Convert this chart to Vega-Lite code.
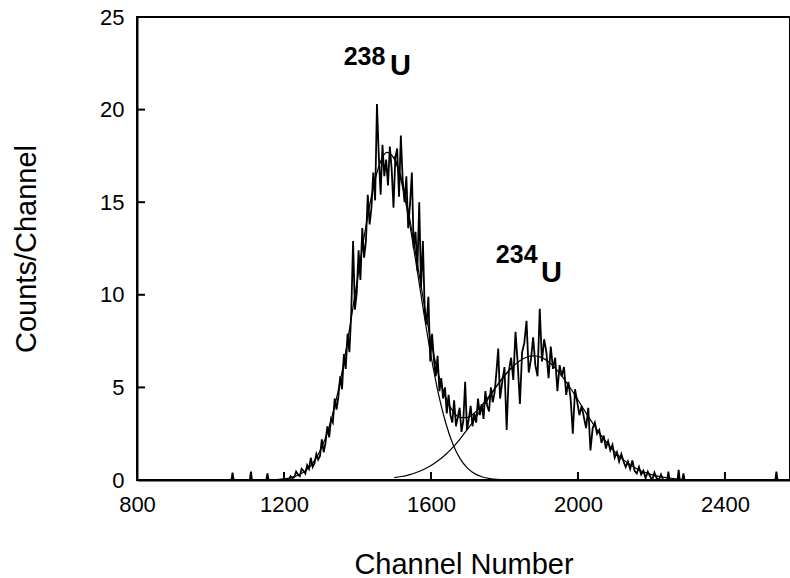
{
  "$schema": "https://vega.github.io/schema/vega-lite/v6.json",
  "width": 653,
  "height": 463,
  "autosize": {"type": "none"},
  "padding": {"left": 137, "top": 17, "right": 0, "bottom": 98},
  "background": "white",
  "config": {
    "font": "Liberation Sans",
    "view": {"stroke": "black", "strokeWidth": 2},
    "axis": {
      "grid": false,
      "domainColor": "black",
      "domainWidth": 2,
      "ticks": false,
      "labelFont": "Liberation Sans",
      "labelFontSize": 22,
      "labelColor": "black",
      "labelFlush": false,
      "titleFont": "Liberation Sans",
      "titleFontSize": 29,
      "titleFontWeight": "normal",
      "titleColor": "black"
    }
  },
  "datasets": {
    "spectrum": [
      {"c":1000,"v":0},{"c":1057,"v":0},{"c":1060,"v":0.4},{"c":1063,"v":0},{"c":1107,"v":0},{"c":1110,"v":0.45},{"c":1113,"v":0},{"c":1152,"v":0},{"c":1155,"v":0.35},{"c":1158,"v":0},{"c":1208,"v":0},
      {"c":1213,"v":0},{"c":1218,"v":0.2},{"c":1223,"v":0.1},{"c":1228,"v":0.15},{"c":1233,"v":0.45},{"c":1238,"v":0.3},{"c":1243,"v":0.2},{"c":1248,"v":0.6},{"c":1253,"v":0.5},{"c":1258,"v":0.35},{"c":1263,"v":0.8},{"c":1268,"v":0.6},{"c":1273,"v":1.2},{"c":1278,"v":0.7},{"c":1283,"v":0.9},{"c":1288,"v":1.4},{"c":1293,"v":1.1},{"c":1298,"v":1.3},{"c":1303,"v":2.2},{"c":1308,"v":1.5},{"c":1313,"v":2.0},{"c":1318,"v":2.9},{"c":1323,"v":2.3},{"c":1328,"v":3.3},{"c":1333,"v":3.1},{"c":1338,"v":4.4},{"c":1343,"v":3.8},{"c":1348,"v":4.5},{"c":1353,"v":5.6},{"c":1358,"v":4.9},{"c":1363,"v":6.8},{"c":1368,"v":6.0},{"c":1373,"v":7.9},{"c":1378,"v":6.9},{"c":1383,"v":9.0},{"c":1388,"v":12.9},{"c":1393,"v":9.2},{"c":1398,"v":10.1},{"c":1403,"v":12.4},{"c":1408,"v":10.8},{"c":1413,"v":13.6},{"c":1418,"v":12.0},{"c":1423,"v":12.9},{"c":1428,"v":15.4},{"c":1433,"v":13.8},{"c":1438,"v":14.7},{"c":1443,"v":16.6},{"c":1448,"v":15.1},{"c":1453,"v":20.3},{"c":1458,"v":17.5},{"c":1463,"v":15.4},{"c":1468,"v":18.1},{"c":1473,"v":16.4},{"c":1478,"v":17.3},{"c":1483,"v":15.9},{"c":1488,"v":18.0},{"c":1493,"v":16.8},{"c":1498,"v":14.7},{"c":1503,"v":17.4},{"c":1508,"v":17.9},{"c":1513,"v":15.3},{"c":1518,"v":18.6},{"c":1523,"v":16.2},{"c":1528,"v":15.0},{"c":1533,"v":16.4},{"c":1538,"v":13.6},{"c":1543,"v":14.9},{"c":1548,"v":16.6},{"c":1553,"v":12.5},{"c":1558,"v":13.4},{"c":1563,"v":11.3},{"c":1568,"v":15.0},{"c":1573,"v":10.4},{"c":1578,"v":12.9},{"c":1583,"v":9.1},{"c":1588,"v":8.4},{"c":1593,"v":9.9},{"c":1598,"v":6.4},{"c":1603,"v":7.9},{"c":1608,"v":6.5},{"c":1613,"v":5.6},{"c":1618,"v":6.7},{"c":1623,"v":4.8},{"c":1628,"v":5.5},{"c":1633,"v":4.4},{"c":1638,"v":5.0},{"c":1643,"v":3.6},{"c":1648,"v":4.6},{"c":1653,"v":3.5},{"c":1658,"v":3.1},{"c":1663,"v":4.3},{"c":1668,"v":2.9},{"c":1673,"v":3.4},{"c":1678,"v":3.9},{"c":1683,"v":2.6},{"c":1688,"v":3.2},{"c":1693,"v":5.3},{"c":1698,"v":2.7},{"c":1703,"v":3.3},{"c":1708,"v":4.0},{"c":1713,"v":2.9},{"c":1718,"v":3.6},{"c":1723,"v":3.1},{"c":1728,"v":4.4},{"c":1733,"v":3.5},{"c":1738,"v":4.1},{"c":1743,"v":3.3},{"c":1748,"v":4.8},{"c":1753,"v":4.0},{"c":1758,"v":3.7},{"c":1763,"v":5.0},{"c":1768,"v":4.2},{"c":1773,"v":4.7},{"c":1778,"v":5.8},{"c":1783,"v":7.1},{"c":1788,"v":4.4},
      {"c":1794,"v":5.3},{"c":1800,"v":6.1},{"c":1806,"v":2.7},{"c":1812,"v":5.9},{"c":1818,"v":6.6},{"c":1824,"v":5.4},{"c":1830,"v":8.0},{"c":1836,"v":6.3},{"c":1842,"v":4.1},{"c":1848,"v":6.9},{"c":1854,"v":7.4},{"c":1860,"v":8.6},{"c":1866,"v":5.8},{"c":1872,"v":6.5},{"c":1878,"v":7.7},{"c":1884,"v":6.2},{"c":1890,"v":5.6},{"c":1896,"v":9.25},{"c":1902,"v":6.4},{"c":1908,"v":7.6},{"c":1914,"v":6.9},{"c":1920,"v":5.5},{"c":1926,"v":7.2},{"c":1932,"v":6.0},{"c":1938,"v":6.6},{"c":1944,"v":4.8},{"c":1950,"v":6.2},{"c":1956,"v":5.6},{"c":1962,"v":6.1},{"c":1968,"v":4.6},{"c":1974,"v":5.3},{"c":1980,"v":4.4},{"c":1986,"v":2.5},{"c":1992,"v":4.9},{"c":1998,"v":4.2},{"c":2004,"v":3.5},{"c":2010,"v":4.0},{"c":2016,"v":3.4},{"c":2022,"v":2.8},{"c":2028,"v":3.9},{"c":2034,"v":1.6},{"c":2040,"v":2.8},{"c":2046,"v":3.1},{"c":2052,"v":2.5},{"c":2058,"v":2.7},{"c":2064,"v":2.0},{"c":2070,"v":2.4},{"c":2076,"v":1.7},{"c":2082,"v":2.1},{"c":2088,"v":1.6},{"c":2094,"v":1.9},{"c":2100,"v":1.2},{"c":2106,"v":1.5},{"c":2112,"v":1.0},{"c":2118,"v":1.4},{"c":2124,"v":1.0},{"c":2130,"v":0.7},{"c":2136,"v":1.0},{"c":2142,"v":0.6},{"c":2148,"v":1.05},{"c":2154,"v":0.5},{"c":2160,"v":0.35},{"c":2166,"v":0.7},{"c":2172,"v":0.3},{"c":2178,"v":0.5},{"c":2184,"v":0.1},{"c":2190,"v":0.45},{"c":2196,"v":0.2},{"c":2202,"v":0.0},{"c":2208,"v":0.4},{"c":2214,"v":0.1},{"c":2220,"v":0.0},{"c":2226,"v":0.3},{"c":2232,"v":0},
      {"c":2243,"v":0},{"c":2246,"v":0.45},{"c":2249,"v":0},{"c":2271,"v":0},{"c":2274,"v":0.55},{"c":2277,"v":0},{"c":2284,"v":0},{"c":2287,"v":0.35},{"c":2290,"v":0},{"c":2537,"v":0},{"c":2540,"v":0.45},{"c":2543,"v":0},{"c":2577,"v":0}
    ],
    "fits": [
      {"s":"238","c":1160,"v":0.011},{"s":"238","c":1180,"v":0.026},{"s":"238","c":1200,"v":0.061},{"s":"238","c":1220,"v":0.132},{"s":"238","c":1240,"v":0.27},{"s":"238","c":1260,"v":0.522},{"s":"238","c":1280,"v":0.954},{"s":"238","c":1300,"v":1.65},{"s":"238","c":1320,"v":2.69},{"s":"238","c":1340,"v":4.16},{"s":"238","c":1360,"v":6.06},{"s":"238","c":1380,"v":8.35},{"s":"238","c":1400,"v":10.86},{"s":"238","c":1420,"v":13.36},{"s":"238","c":1440,"v":15.52},{"s":"238","c":1460,"v":17.05},{"s":"238","c":1480,"v":17.69},{"s":"238","c":1500,"v":17.34},{"s":"238","c":1520,"v":16.06},{"s":"238","c":1540,"v":14.06},{"s":"238","c":1560,"v":11.63},{"s":"238","c":1580,"v":9.09},{"s":"238","c":1600,"v":6.71},{"s":"238","c":1620,"v":4.68},{"s":"238","c":1640,"v":3.09},{"s":"238","c":1660,"v":1.92},{"s":"238","c":1680,"v":1.13},{"s":"238","c":1700,"v":0.629},{"s":"238","c":1720,"v":0.331},{"s":"238","c":1740,"v":0.164},{"s":"238","c":1760,"v":0.077},{"s":"238","c":1780,"v":0.034},{"s":"238","c":1800,"v":0.014},
      {"s":"234","c":1500,"v":0.128},{"s":"234","c":1520,"v":0.19},{"s":"234","c":1540,"v":0.281},{"s":"234","c":1560,"v":0.404},{"s":"234","c":1580,"v":0.568},{"s":"234","c":1600,"v":0.78},{"s":"234","c":1620,"v":1.05},{"s":"234","c":1640,"v":1.38},{"s":"234","c":1660,"v":1.776},{"s":"234","c":1680,"v":2.24},{"s":"234","c":1700,"v":2.755},{"s":"234","c":1720,"v":3.32},{"s":"234","c":1740,"v":3.91},{"s":"234","c":1760,"v":4.51},{"s":"234","c":1780,"v":5.09},{"s":"234","c":1800,"v":5.62},{"s":"234","c":1820,"v":6.07},{"s":"234","c":1840,"v":6.41},{"s":"234","c":1860,"v":6.63},{"s":"234","c":1880,"v":6.7},{"s":"234","c":1900,"v":6.62},{"s":"234","c":1920,"v":6.38},{"s":"234","c":1940,"v":6.0},{"s":"234","c":1960,"v":5.51},{"s":"234","c":1980,"v":4.94},{"s":"234","c":2000,"v":4.32},{"s":"234","c":2020,"v":3.68},{"s":"234","c":2040,"v":3.07},{"s":"234","c":2060,"v":2.49},{"s":"234","c":2080,"v":1.98},{"s":"234","c":2100,"v":1.53},{"s":"234","c":2120,"v":1.155},{"s":"234","c":2140,"v":0.851},{"s":"234","c":2160,"v":0.612},{"s":"234","c":2180,"v":0.43},{"s":"234","c":2200,"v":0.294},{"s":"234","c":2220,"v":0.197},{"s":"234","c":2240,"v":0.128},{"s":"234","c":2260,"v":0.082},{"s":"234","c":2280,"v":0.05},
      {"s":"sum","c":1500,"v":17.47},{"s":"sum","c":1520,"v":16.25},{"s":"sum","c":1540,"v":14.34},{"s":"sum","c":1560,"v":12.03},{"s":"sum","c":1580,"v":9.66},{"s":"sum","c":1600,"v":7.49},{"s":"sum","c":1620,"v":5.73},{"s":"sum","c":1640,"v":4.47},{"s":"sum","c":1660,"v":3.7},{"s":"sum","c":1680,"v":3.37},{"s":"sum","c":1700,"v":3.38},{"s":"sum","c":1720,"v":3.65},{"s":"sum","c":1740,"v":4.07},{"s":"sum","c":1760,"v":4.59},{"s":"sum","c":1780,"v":5.12},{"s":"sum","c":1800,"v":5.63},{"s":"sum","c":1820,"v":6.07}
    ],
    "xticks": [{"c":1200,"v":0},{"c":1600,"v":0},{"c":2000,"v":0},{"c":2400,"v":0}],
    "yticks": [{"c":800,"v":5},{"c":800,"v":10},{"c":800,"v":15},{"c":800,"v":20}],
    "isotopes": [
      {"c":1476,"v":22.41,"t":"238"},
      {"c":1890,"v":11.72,"t":"234"}
    ],
    "elements": [
      {"c":1517,"v":21.87,"t":"U"},
      {"c":1928,"v":10.69,"t":"U"}
    ]
  },
  "layer": [
    {
      "data": {"name": "fits"},
      "mark": {"type": "line", "color": "black", "strokeWidth": 1.2, "interpolate": "monotone", "clip": true},
      "encoding": {
        "x": {
          "field": "c", "type": "quantitative",
          "scale": {"domain": [800, 2577], "nice": false, "zero": false},
          "axis": {"values": [800, 1200, 1600, 2000, 2400], "format": "d", "title": "Channel Number", "labelPadding": 14, "titleBaseline": "alphabetic", "titleY": 93}
        },
        "y": {
          "field": "v", "type": "quantitative",
          "scale": {"domain": [0, 25], "nice": false},
          "axis": {"values": [0, 5, 10, 15, 20, 25], "format": "d", "title": "Counts/Channel", "labelPadding": 13, "titleBaseline": "alphabetic", "titleX": -102}
        },
        "detail": {"field": "s"}
      }
    },
    {
      "data": {"name": "spectrum"},
      "mark": {"type": "line", "color": "black", "strokeWidth": 1.8, "clip": true},
      "encoding": {
        "x": {"field": "c", "type": "quantitative"},
        "y": {"field": "v", "type": "quantitative"}
      }
    },
    {
      "data": {"name": "xticks"},
      "mark": {"type": "tick", "orient": "vertical", "color": "black", "size": 16, "thickness": 2, "opacity": 1, "clip": true},
      "encoding": {
        "x": {"field": "c", "type": "quantitative"},
        "y": {"field": "v", "type": "quantitative"}
      }
    },
    {
      "data": {"name": "yticks"},
      "mark": {"type": "tick", "orient": "horizontal", "color": "black", "size": 16, "thickness": 2, "opacity": 1, "clip": true},
      "encoding": {
        "x": {"field": "c", "type": "quantitative"},
        "y": {"field": "v", "type": "quantitative"}
      }
    },
    {
      "data": {"name": "isotopes"},
      "mark": {"type": "text", "align": "right", "baseline": "alphabetic", "fontSize": 25, "fontWeight": "bold", "font": "Liberation Sans", "color": "black"},
      "encoding": {
        "x": {"field": "c", "type": "quantitative"},
        "y": {"field": "v", "type": "quantitative"},
        "text": {"field": "t"}
      }
    },
    {
      "data": {"name": "elements"},
      "mark": {"type": "text", "align": "center", "baseline": "alphabetic", "fontSize": 29, "fontWeight": "bold", "font": "Liberation Sans", "color": "black"},
      "encoding": {
        "x": {"field": "c", "type": "quantitative"},
        "y": {"field": "v", "type": "quantitative"},
        "text": {"field": "t"}
      }
    }
  ]
}
